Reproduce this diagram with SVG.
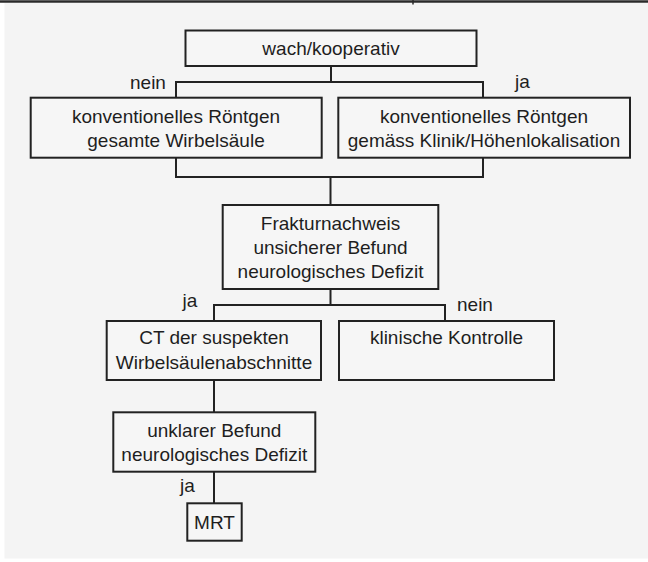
<svg xmlns="http://www.w3.org/2000/svg" width="648" height="562" viewBox="0 0 648 562">
  <style>
    .box { fill: #f6f6f6; stroke: #222; stroke-width: 2; }
    .conn { fill: none; stroke: #222; stroke-width: 2; }
    text { font-family: "Liberation Sans", Arial, sans-serif; font-size: 19px; fill: #1e1e1e; }
    .c { text-anchor: middle; }
  </style>
  <rect x="0" y="0" width="648" height="562" fill="#ffffff"/>
  <rect x="4.5" y="3" width="643.5" height="555.5" fill="#f4f4f4"/>
  <line x1="0" y1="1.5" x2="648" y2="1.5" stroke="#2a2a2a" stroke-width="2.5"/>
  <line x1="413" y1="0" x2="413" y2="4.5" stroke="#2a2a2a" stroke-width="1.5"/>

  <g id="connectors">
    <path class="conn" d="M331 66 V82 M176 97.7 V82 H483 V97.7"/>
    <path class="conn" d="M176 157.7 V177 H483 V157.7 M330.5 177 V205"/>
    <path class="conn" d="M330.5 289 V305 M214 321 V305 H445 V321"/>
    <path class="conn" d="M214 380 V412.3"/>
    <path class="conn" d="M214 471.7 V503.3"/>
    <text x="130" y="89">nein</text>
    <text x="515" y="88">ja</text>
    <text x="182.5" y="306.5">ja</text>
    <text x="457" y="310.5">nein</text>
    <text x="180" y="491.5">ja</text>
  </g>

  <g id="n-wach">
    <rect class="box" x="185.5" y="30.5" width="291" height="35.5"/>
    <text class="c" x="331" y="54.5">wach/kooperativ</text>
  </g>
  <g id="n-roentgen-gesamt">
    <rect class="box" x="30.7" y="97.7" width="291" height="60"/>
    <text class="c" x="176" y="123">konventionelles Röntgen</text>
    <text class="c" x="176" y="146.5">gesamte Wirbelsäule</text>
  </g>
  <g id="n-roentgen-klinik">
    <rect class="box" x="338.3" y="97.7" width="291.7" height="60"/>
    <text class="c" x="484" y="123">konventionelles Röntgen</text>
    <text class="c" x="484" y="146.5">gemäss Klinik/Höhenlokalisation</text>
  </g>
  <g id="n-fraktur">
    <rect class="box" x="222.7" y="205" width="215.6" height="84"/>
    <text class="c" x="330.5" y="229.5">Frakturnachweis</text>
    <text class="c" x="330.5" y="253.5">unsicherer Befund</text>
    <text class="c" x="330.5" y="277.5">neurologisches Defizit</text>
  </g>
  <g id="n-ct">
    <rect class="box" x="106.7" y="321" width="214.3" height="59"/>
    <text class="c" x="214" y="344">CT der suspekten</text>
    <text class="c" x="214" y="369">Wirbelsäulenabschnitte</text>
  </g>
  <g id="n-kontrolle">
    <rect class="box" x="339" y="321" width="215" height="59"/>
    <text class="c" x="446.5" y="344">klinische Kontrolle</text>
  </g>
  <g id="n-unklar">
    <rect class="box" x="113.3" y="412.3" width="202" height="59.4"/>
    <text class="c" x="214.3" y="436.7">unklarer Befund</text>
    <text class="c" x="214.3" y="460.7">neurologisches Defizit</text>
  </g>
  <g id="n-mrt">
    <rect class="box" x="187.3" y="503.3" width="54.4" height="37.4"/>
    <text class="c" x="214.5" y="528.5">MRT</text>
  </g>
</svg>
